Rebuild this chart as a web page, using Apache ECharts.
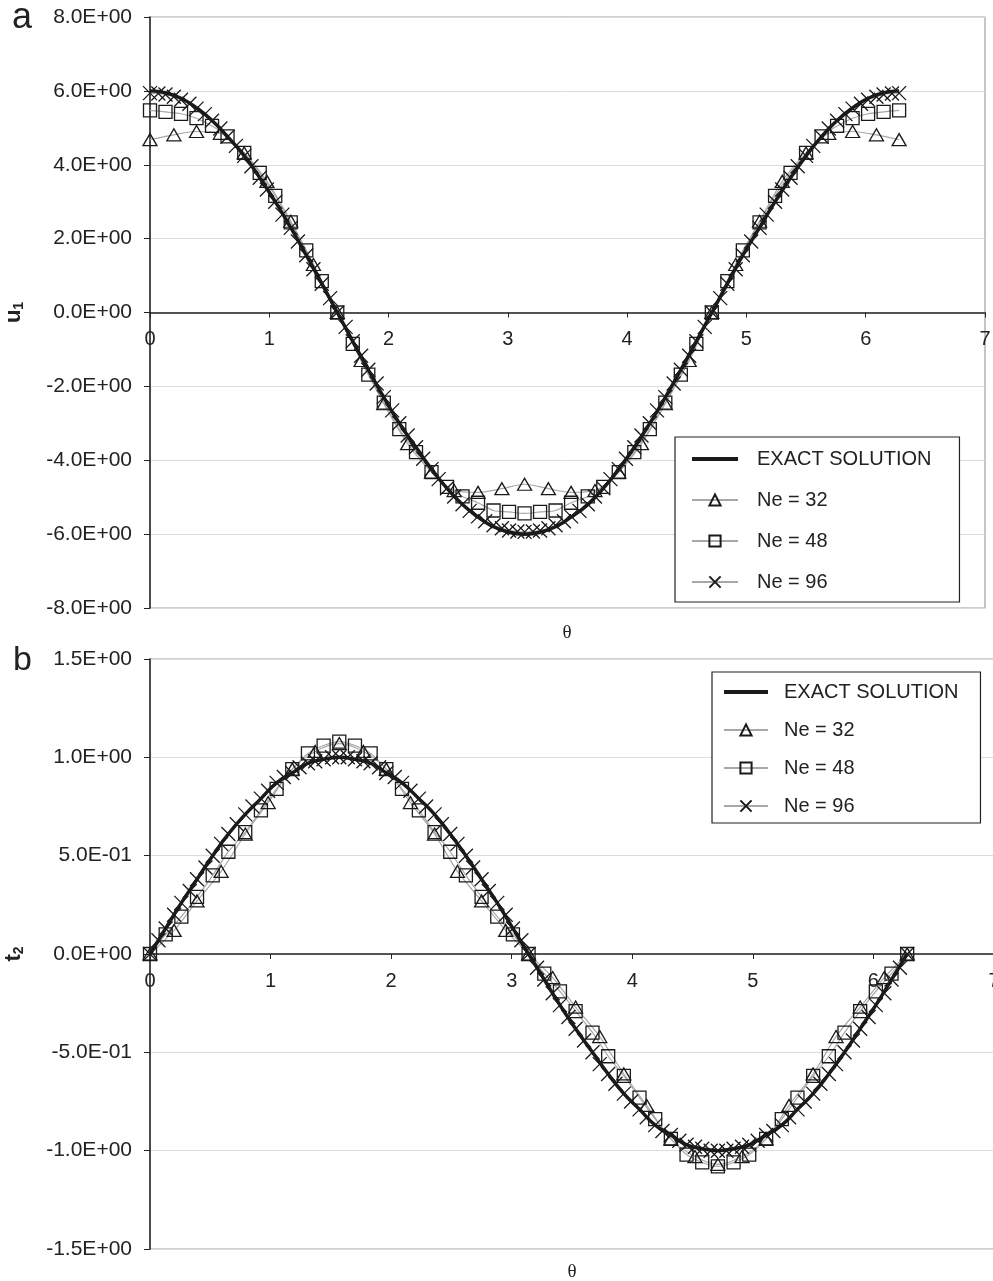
<!DOCTYPE html>
<html>
<head>
<meta charset="utf-8">
<script src="https://cdn.jsdelivr.net/npm/echarts@6/dist/echarts.min.js"></script>
<style>
  html, body { margin: 0; padding: 0; background: #fff; }
  #main { width: 993px; height: 1281px; }
</style>
</head>
<body>
<div id="main"></div>
<script>
// theta values of the nodes (Ne = 96, 48, 32)
var theta96 = [0, 0.07, 0.13, 0.20, 0.26, 0.33, 0.39, 0.46, 0.52, 0.59,
  0.65, 0.72, 0.79, 0.85, 0.92, 0.98, 1.05, 1.11, 1.18, 1.24,
  1.31, 1.37, 1.44, 1.51, 1.57, 1.64, 1.70, 1.77, 1.83, 1.90,
  1.96, 2.03, 2.09, 2.16, 2.23, 2.29, 2.36, 2.42, 2.49, 2.55,
  2.62, 2.68, 2.75, 2.81, 2.88, 2.95, 3.01, 3.08, 3.14, 3.21,
  3.27, 3.34, 3.40, 3.47, 3.53, 3.60, 3.67, 3.73, 3.80, 3.86,
  3.93, 3.99, 4.06, 4.12, 4.19, 4.25, 4.32, 4.39, 4.45, 4.52,
  4.58, 4.65, 4.71, 4.78, 4.84, 4.91, 4.97, 5.04, 5.11, 5.17,
  5.24, 5.30, 5.37, 5.43, 5.50, 5.56, 5.63, 5.69, 5.76, 5.83,
  5.89, 5.96, 6.02, 6.09, 6.15, 6.22, 6.28];
var theta48 = [0, 0.13, 0.26, 0.39, 0.52, 0.65, 0.79, 0.92, 1.05, 1.18,
  1.31, 1.44, 1.57, 1.70, 1.83, 1.96, 2.09, 2.23, 2.36, 2.49,
  2.62, 2.75, 2.88, 3.01, 3.14, 3.27, 3.40, 3.53, 3.67, 3.80,
  3.93, 4.06, 4.19, 4.32, 4.45, 4.58, 4.71, 4.84, 4.97, 5.11,
  5.24, 5.37, 5.50, 5.63, 5.76, 5.89, 6.02, 6.15, 6.28];
var theta32 = [0, 0.20, 0.39, 0.59, 0.79, 0.98, 1.18, 1.37, 1.57, 1.77,
  1.96, 2.16, 2.36, 2.55, 2.75, 2.95, 3.14, 3.34, 3.53, 3.73,
  3.93, 4.12, 4.32, 4.52, 4.71, 4.91, 5.11, 5.30, 5.50, 5.69,
  5.89, 6.09, 6.28];

// panel a : u1
var u1Exact = [6.00, 5.95, 5.80, 5.54, 5.20, 4.76, 4.24, 3.65, 3.00, 2.30, 1.55, 0.78, 0.00,
  -0.78, -1.55, -2.30, -3.00, -3.65, -4.24, -4.76, -5.20, -5.54, -5.80, -5.95, -6.00,
  -5.95, -5.80, -5.54, -5.20, -4.76, -4.24, -3.65, -3.00, -2.30, -1.55, -0.78, 0.00,
  0.78, 1.55, 2.30, 3.00, 3.65, 4.24, 4.76, 5.20, 5.54, 5.80, 5.95, 6.00];
var u1Ne32 = [4.68, 4.81, 4.90, 4.85, 4.32, 3.55, 2.47, 1.30, 0.00,
  -1.30, -2.47, -3.55, -4.32, -4.82, -4.87, -4.77, -4.65,
  -4.77, -4.87, -4.82, -4.32, -3.55, -2.47, -1.30, 0.00,
  1.30, 2.47, 3.55, 4.32, 4.85, 4.90, 4.81, 4.68];
var u1Ne48 = [5.47, 5.43, 5.38, 5.26, 5.05, 4.77, 4.32, 3.78, 3.16, 2.44, 1.68, 0.85, 0.00,
  -0.85, -1.68, -2.44, -3.16, -3.78, -4.32, -4.72, -4.98, -5.15, -5.36, -5.40, -5.44,
  -5.40, -5.36, -5.15, -4.98, -4.72, -4.32, -3.78, -3.16, -2.44, -1.68, -0.85, 0.00,
  0.85, 1.68, 2.44, 3.16, 3.78, 4.32, 4.77, 5.05, 5.26, 5.38, 5.43, 5.47];
var u1Ne96 = [5.94, 5.93, 5.90, 5.84, 5.76, 5.65, 5.52, 5.37, 5.19, 4.98,
  4.76, 4.51, 4.24, 3.96, 3.65, 3.33, 3.00, 2.65, 2.29, 1.92,
  1.55, 1.17, 0.78, 0.39, 0.00, -0.39, -0.78, -1.17, -1.55, -1.92,
  -2.29, -2.65, -3.00, -3.33, -3.65, -3.96, -4.24, -4.51, -4.76, -4.98,
  -5.19, -5.37, -5.52, -5.65, -5.76, -5.84, -5.90, -5.93, -5.94, -5.93,
  -5.90, -5.84, -5.76, -5.65, -5.52, -5.37, -5.19, -4.98, -4.76, -4.51,
  -4.24, -3.96, -3.65, -3.33, -3.00, -2.65, -2.29, -1.92, -1.55, -1.17,
  -0.78, -0.39, 0.00, 0.39, 0.78, 1.17, 1.55, 1.92, 2.29, 2.65,
  3.00, 3.33, 3.65, 3.96, 4.24, 4.51, 4.76, 4.98, 5.19, 5.37,
  5.52, 5.65, 5.76, 5.84, 5.90, 5.93, 5.94];

// panel b : t2
var t2Exact = [0.00, 0.13, 0.26, 0.38, 0.50, 0.61, 0.71, 0.79, 0.87, 0.92, 0.97, 0.99, 1.00,
  0.99, 0.97, 0.92, 0.87, 0.79, 0.71, 0.61, 0.50, 0.38, 0.26, 0.13, 0.00,
  -0.13, -0.26, -0.38, -0.50, -0.61, -0.71, -0.79, -0.87, -0.92, -0.97, -0.99, -1.00,
  -0.99, -0.97, -0.92, -0.87, -0.79, -0.71, -0.61, -0.50, -0.38, -0.26, -0.13, 0.00];
var t2Ne32 = [0.00, 0.12, 0.27, 0.42, 0.61, 0.77, 0.94, 1.03, 1.07,
  1.03, 0.94, 0.77, 0.61, 0.42, 0.27, 0.12, 0.00,
  -0.12, -0.27, -0.42, -0.61, -0.77, -0.94, -1.03, -1.07,
  -1.03, -0.94, -0.77, -0.61, -0.42, -0.27, -0.12, 0.00];
var t2Ne48 = [0.00, 0.10, 0.19, 0.29, 0.40, 0.52, 0.62, 0.73, 0.84, 0.94, 1.02, 1.06, 1.08,
  1.06, 1.02, 0.94, 0.84, 0.73, 0.62, 0.52, 0.40, 0.29, 0.19, 0.10, 0.00,
  -0.10, -0.19, -0.29, -0.40, -0.52, -0.62, -0.73, -0.84, -0.94, -1.02, -1.06, -1.08,
  -1.06, -1.02, -0.94, -0.84, -0.73, -0.62, -0.52, -0.40, -0.29, -0.19, -0.10, 0.00];
var t2Ne96 = [0.00, 0.07, 0.13, 0.20, 0.26, 0.32, 0.38, 0.44, 0.50, 0.56,
  0.61, 0.66, 0.71, 0.75, 0.79, 0.83, 0.87, 0.90, 0.92, 0.95,
  0.97, 0.98, 0.99, 1.00, 1.00, 1.00, 0.99, 0.98, 0.97, 0.95,
  0.92, 0.90, 0.87, 0.83, 0.79, 0.75, 0.71, 0.66, 0.61, 0.56,
  0.50, 0.44, 0.38, 0.32, 0.26, 0.20, 0.13, 0.07, 0.00, -0.07,
  -0.13, -0.20, -0.26, -0.32, -0.38, -0.44, -0.50, -0.56, -0.61, -0.66,
  -0.71, -0.75, -0.79, -0.83, -0.87, -0.90, -0.92, -0.95, -0.97, -0.98,
  -0.99, -1.00, -1.00, -1.00, -0.99, -0.98, -0.97, -0.95, -0.92, -0.90,
  -0.87, -0.83, -0.79, -0.75, -0.71, -0.66, -0.61, -0.56, -0.50, -0.44,
  -0.38, -0.32, -0.26, -0.20, -0.13, -0.07, 0.00];

var legendNames = ['EXACT SOLUTION', 'Ne = 32', 'Ne = 48', 'Ne = 96'];

function pairs(xs, ys) {
  return xs.map(function (x, i) { return [x, ys[i]]; });
}

// 8.0E+00 style labels
function sci(v) {
  if (Math.abs(v) < 1e-12) return '0.0E+00';
  var e = Math.floor(Math.log10(Math.abs(v)) + 1e-9);
  var m = v / Math.pow(10, e);
  var ae = Math.abs(e);
  return m.toFixed(1) + 'E' + (e < 0 ? '-' : '+') + (ae < 10 ? '0' + ae : '' + ae);
}

var FONT = 'Liberation Sans, Arial, sans-serif';
var TXT = '#222';
var crossPath = 'path://M0,0L10,10M10,0L0,10';

function makeSeries(idx, exact, ne32, ne48, ne96) {
  var base = {
    type: 'line', xAxisIndex: idx, yAxisIndex: idx,
    smooth: 0.3, animation: false,
    lineStyle: { color: '#a8a8a8', width: 1.2 }
  };
  return [
    {
      name: legendNames[0], type: 'line', xAxisIndex: idx, yAxisIndex: idx,
      data: pairs(theta48, exact), smooth: true, symbol: 'none', z: 4,
      animation: false,
      itemStyle: { color: '#1a1a1a' },
      lineStyle: { color: '#1a1a1a', width: 3.5 }
    },
    Object.assign({}, base, {
      name: legendNames[1], data: pairs(theta32, ne32),
      symbol: 'triangle', symbolSize: [14, 12],
      itemStyle: { color: 'rgba(0,0,0,0)', borderColor: '#1a1a1a', borderWidth: 1.3 }
    }),
    Object.assign({}, base, {
      name: legendNames[2], data: pairs(theta48, ne48),
      symbol: 'rect', symbolSize: 13,
      itemStyle: { color: 'rgba(0,0,0,0)', borderColor: '#1a1a1a', borderWidth: 1.3 }
    }),
    Object.assign({}, base, {
      name: legendNames[3], data: pairs(theta96, ne96),
      symbol: crossPath, symbolSize: 14,
      itemStyle: { color: 'rgba(0,0,0,0)', borderColor: '#1a1a1a', borderWidth: 1.3 }
    })
  ];
}

// x axis drawn through y = 0 (half the grid height above its bottom edge)
function xAxisCfg(idx, lift) {
  return {
    type: 'value', gridIndex: idx, min: 0, max: 7, interval: 1,
    offset: -lift,
    axisLine: { onZero: false, lineStyle: { color: TXT, width: 1.5 } },
    axisTick: { show: true, length: 5, lineStyle: { color: TXT } },
    axisLabel: { fontSize: 20, color: TXT, fontFamily: FONT, margin: 17 },
    splitLine: { show: false }
  };
}

function yAxisCfg(idx, min, max, step, letter, sub) {
  return {
    type: 'value', gridIndex: idx, min: min, max: max, interval: step,
    axisLine: { show: true, onZero: false, lineStyle: { color: TXT, width: 1.5 } },
    axisTick: { show: true, length: 6, lineStyle: { color: TXT } },
    axisLabel: { fontSize: 21, color: TXT, fontFamily: FONT, margin: 18, formatter: sci },
    splitLine: { show: true, lineStyle: { color: '#dcdcdc', width: 1 } },
    name: '{m|' + letter + '}{s|' + sub + '}',
    nameLocation: 'middle', nameRotate: 90, nameGap: 124,
    nameTextStyle: {
      rich: {
        m: { fontSize: 22, fontWeight: 'bold', color: TXT, fontFamily: FONT },
        s: { fontSize: 14, fontWeight: 'bold', color: TXT, fontFamily: FONT, padding: [10, 0, 0, 0] }
      }
    }
  };
}

function legendCfg(left, top, gap, pad, iw, tpad) {
  return {
    orient: 'vertical', left: left, top: top,
    data: [
      { name: legendNames[0], itemStyle: { color: 'rgba(0,0,0,0)', borderWidth: 0 },
        lineStyle: { color: '#1a1a1a', width: 4 } },
      legendNames[1], legendNames[2], legendNames[3]
    ],
    itemGap: gap, itemWidth: iw, itemHeight: 14,
    padding: pad, borderColor: TXT, borderWidth: 1.2, backgroundColor: '#fff',
    textStyle: { fontSize: 20, color: TXT, fontFamily: FONT, lineHeight: 20, padding: [0, 0, 0, tpad] }
  };
}

var dom = document.getElementById('main');
var myChart = echarts.init(dom);
var option = {
  backgroundColor: '#fff',
  animation: false,
  grid: [
    { left: 150, top: 17, width: 835, height: 591, show: true, borderColor: '#a0a0a0', borderWidth: 1.2,
      containLabel: false, outerBoundsMode: 'none' },
    { left: 150, top: 659, width: 844, height: 590, show: true, borderColor: '#a0a0a0', borderWidth: 1.2,
      containLabel: false, outerBoundsMode: 'none' }
  ],
  xAxis: [xAxisCfg(0, 295.5), xAxisCfg(1, 295)],
  yAxis: [
    yAxisCfg(0, -8, 8, 2, 'u', '1'),
    yAxisCfg(1, -1.5, 1.5, 0.5, 't', '2')
  ],
  legend: [
    legendCfg(675, 437, 21, [12, 28, 10, 15], 46, 14),
    legendCfg(712, 672, 18, [10, 22, 7, 10], 44, 11)
  ],
  graphic: [
    { type: 'text', left: 12, top: 0, style: { text: 'a', font: '36px ' + FONT, fill: TXT } },
    { type: 'text', left: 13, top: 644, style: { text: 'b', font: '34px ' + FONT, fill: TXT } },
    { type: 'text', x: 567, y: 633, style: { text: 'θ', font: '19px Liberation Serif, serif', fill: TXT, textAlign: 'center', textVerticalAlign: 'middle' } },
    { type: 'text', x: 572, y: 1272, style: { text: 'θ', font: '19px Liberation Serif, serif', fill: TXT, textAlign: 'center', textVerticalAlign: 'middle' } }
  ],
  series: makeSeries(0, u1Exact, u1Ne32, u1Ne48, u1Ne96)
    .concat(makeSeries(1, t2Exact, t2Ne32, t2Ne48, t2Ne96))
};
if (option && typeof option === 'object') {
  myChart.setOption(option, true);
}
</script>
</body>
</html>
